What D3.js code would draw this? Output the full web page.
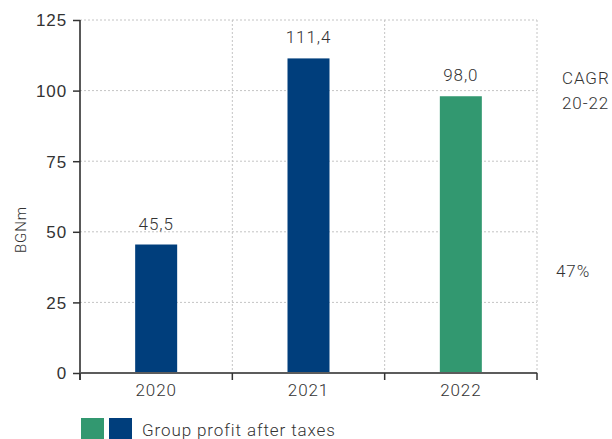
<!DOCTYPE html>
<html>
<head>
<meta charset="utf-8">
<script src="https://cdn.jsdelivr.net/npm/d3@7"></script>
<style>
  html, body { margin: 0; padding: 0; background: #fff; }
  svg { display: block; font-family: Roboto, "Liberation Sans", sans-serif; font-weight: 300; letter-spacing: 0.9px; }
</style>
</head>
<body>
<svg id="chart" width="612" height="439"></svg>
<script>
// Group profit after taxes, BGN million
const years = ["2020", "2021", "2022"];
const profit = [45.5, 111.4, 98.0];
const profitLabels = ["45,5", "111,4", "98,0"];
const barColors = ["#003e7c", "#003e7c", "#329870"];
const yTicks = [0, 25, 50, 75, 100, 125];
const legendColors = ["#329870", "#003e7c"];
const legendText = "Group profit after taxes";
const cagrLines = ["CAGR", "20-22"];
const cagrValue = "47%";

const svg = d3.select("#chart");
const plotLeft = 80, plotRight = 537, plotTop = 20, plotBottom = 373;

const x = d3.scaleBand().domain(years).range([plotLeft, plotRight]).paddingInner(0).paddingOuter(0);
const y = d3.scaleLinear().domain([0, 125]).range([plotBottom, plotTop]);

const textColor = "#333";
const fs = 17;

// dotted grid
const grid = svg.append("g");
grid.selectAll("line.h").data(yTicks.filter(d => d > 0)).join("line")
  .attr("class", "h")
  .attr("x1", plotLeft).attr("x2", plotRight)
  .attr("y1", d => y(d)).attr("y2", d => y(d))
  .attr("stroke", "#c4c4c4").attr("stroke-width", 1).attr("stroke-dasharray", "2,2");
grid.selectAll("line.v").data(years).join("line")
  .attr("class", "v")
  .attr("x1", d => x(d) + x.bandwidth()).attr("x2", d => x(d) + x.bandwidth())
  .attr("y1", plotTop).attr("y2", plotBottom)
  .attr("stroke", "#c4c4c4").attr("stroke-width", 1).attr("stroke-dasharray", "2,2");

// bars
const barW = 42;
svg.append("g").selectAll("rect").data(profit).join("rect")
  .attr("x", (d, i) => x(years[i]) + x.bandwidth() / 2 - barW / 2)
  .attr("y", d => y(d))
  .attr("width", barW)
  .attr("height", d => y(0) - y(d))
  .attr("fill", (d, i) => barColors[i]);

// value labels
svg.append("g").selectAll("text").data(profit).join("text")
  .attr("x", (d, i) => x(years[i]) + x.bandwidth() / 2)
  .attr("y", d => y(d) - 15)
  .attr("text-anchor", "middle")
  .attr("font-size", fs)
  .attr("fill", textColor)
  .text((d, i) => profitLabels[i]);

// y axis
const yAxis = svg.append("g").attr("transform", `translate(${plotLeft},0)`)
  .call(d3.axisLeft(y).tickValues(yTicks).tickSize(7).tickPadding(6).tickFormat(d3.format("d")));
yAxis.select(".domain").attr("stroke", "#222").attr("stroke-width", 1.5).attr("d", `M0,${plotTop}H0V${plotBottom + 7}`);
yAxis.selectAll(".tick line").attr("stroke", "#333").attr("stroke-width", 1.5);
yAxis.selectAll(".tick text").attr("font-size", fs).attr("fill", textColor)
  .attr("font-family", null).attr("dy", "0.35em");

// x axis
const xTickPos = [plotLeft].concat(years.map(d => x(d) + x.bandwidth()));
const xAxis = svg.append("g").attr("transform", `translate(0,${plotBottom})`);
xAxis.append("line").attr("x1", plotLeft).attr("x2", plotRight).attr("y1", 0).attr("y2", 0)
  .attr("stroke", "#5c5c5c").attr("stroke-width", 2);
xAxis.selectAll("line.t").data(xTickPos).join("line")
  .attr("class", "t")
  .attr("x1", d => d).attr("x2", d => d).attr("y1", 0).attr("y2", 7)
  .attr("stroke", "#333").attr("stroke-width", 1.5);
xAxis.selectAll("text").data(years).join("text")
  .attr("x", d => x(d) + x.bandwidth() / 2)
  .attr("y", 23)
  .attr("text-anchor", "middle")
  .attr("font-size", fs)
  .attr("fill", textColor)
  .text(d => d);

// y axis title
svg.append("text")
  .attr("transform", `translate(26,${(plotTop + plotBottom) / 2 + 33}) rotate(-90)`)
  .attr("text-anchor", "middle")
  .attr("font-size", 15)
  .attr("fill", textColor)
  .text("BGNm");

// CAGR note
svg.append("g").selectAll("text").data(cagrLines).join("text")
  .attr("x", 562).attr("y", (d, i) => 84 + i * 25)
  .attr("font-size", fs).attr("fill", textColor)
  .text(d => d);
svg.append("text").attr("x", 556).attr("y", 277)
  .attr("font-size", fs).attr("fill", textColor)
  .text(cagrValue);

// legend
const lg = svg.append("g");
lg.selectAll("rect").data(legendColors).join("rect")
  .attr("x", (d, i) => 81 + i * 28).attr("y", 418)
  .attr("width", 23).attr("height", 23)
  .attr("fill", d => d);
lg.append("text").attr("x", 142).attr("y", 436)
  .attr("font-size", fs).attr("fill", textColor)
  .text(legendText);
</script>
</body>
</html>
